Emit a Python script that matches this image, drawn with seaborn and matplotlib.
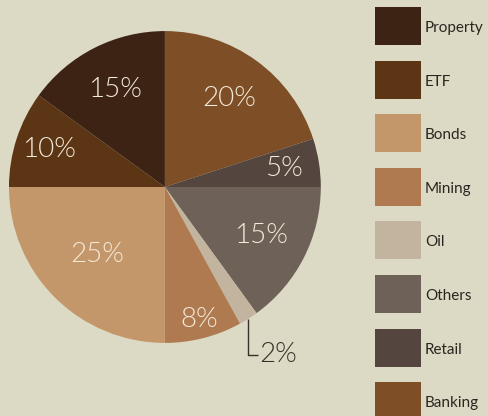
import numpy as np
import matplotlib
matplotlib.use("Agg")
import matplotlib.pyplot as plt
from matplotlib.patches import Rectangle
import seaborn as sns

# Portfolio allocation, clockwise from 12 o'clock
sectors = ["Banking", "Retail", "Others", "Oil", "Mining", "Bonds", "ETF", "Property"]
shares = [20, 5, 15, 2, 8, 25, 10, 15]
colors = ["#7e4e26", "#54463e", "#6e6258", "#c2b49e", "#b07a50", "#c4976a", "#5c3515", "#3d2314"]

# Legend order (top to bottom)
legend_order = ["Property", "ETF", "Bonds", "Mining", "Oil", "Others", "Retail", "Banking"]

BG = "#dcdac5"
W, H = 488, 416
sns.set_theme(style="white")
plt.rcParams["font.family"] = ["Lato", "DejaVu Sans"]

fig = plt.figure(figsize=(W / 100, H / 100), dpi=100, facecolor=BG)
ax = fig.add_axes([0.0184, 0.1755, 0.639, 0.75])
ax.set_facecolor(BG)

wedges, _ = ax.pie(shares, colors=colors, startangle=90, counterclock=False,
                   radius=1.0, wedgeprops=dict(linewidth=0))
ax.set_xlim(-1, 1)
ax.set_ylim(-1, 1)
ax.set_aspect("equal")
ax.axis("off")

# radial position of each percentage label inside its wedge
label_r = [0.70, 0.77, 0.69, None, 0.88, 0.61, 0.78, 0.70]
for w, val, r in zip(wedges, shares, label_r):
    mid = np.deg2rad((w.theta1 + w.theta2) / 2)
    if r is None:
        # small slice: label outside with an elbow leader
        x0, y0 = np.cos(mid), np.sin(mid)
        ax.plot([x0, x0, x0 + 0.06], [y0, -1.077, -1.077], color="#3a2f28",
                lw=1.0, clip_on=False, solid_capstyle="butt")
        ax.text(x0 + 0.07, -1.077, f"{val}%", color="#3a2f28", fontsize=20,
                fontweight=300, ha="left", va="center", clip_on=False)
        continue
    ax.text(r * np.cos(mid), r * np.sin(mid), f"{val}%", color="#f3ead9",
            fontsize=20, fontweight=300, ha="center", va="center")

# Legend: large swatches stacked down the right edge
color_of = dict(zip(sectors, colors))
sw_x, sw_w, sw_h, top0, pitch = 375, 46, 38, 7, 53.6
for i, s in enumerate(legend_order):
    top = top0 + i * pitch
    fig.add_artist(Rectangle((sw_x / W, 1 - (top + sw_h) / H), sw_w / W, sw_h / H,
                             transform=fig.transFigure, facecolor=color_of[s],
                             edgecolor="none"))
    fig.text((sw_x + sw_w + 4) / W, 1 - (top + sw_h / 2 + 2) / H, s,
             fontsize=11, color="#2b2520", ha="left", va="center")

fig.savefig("out.png", dpi=100, facecolor=BG)
